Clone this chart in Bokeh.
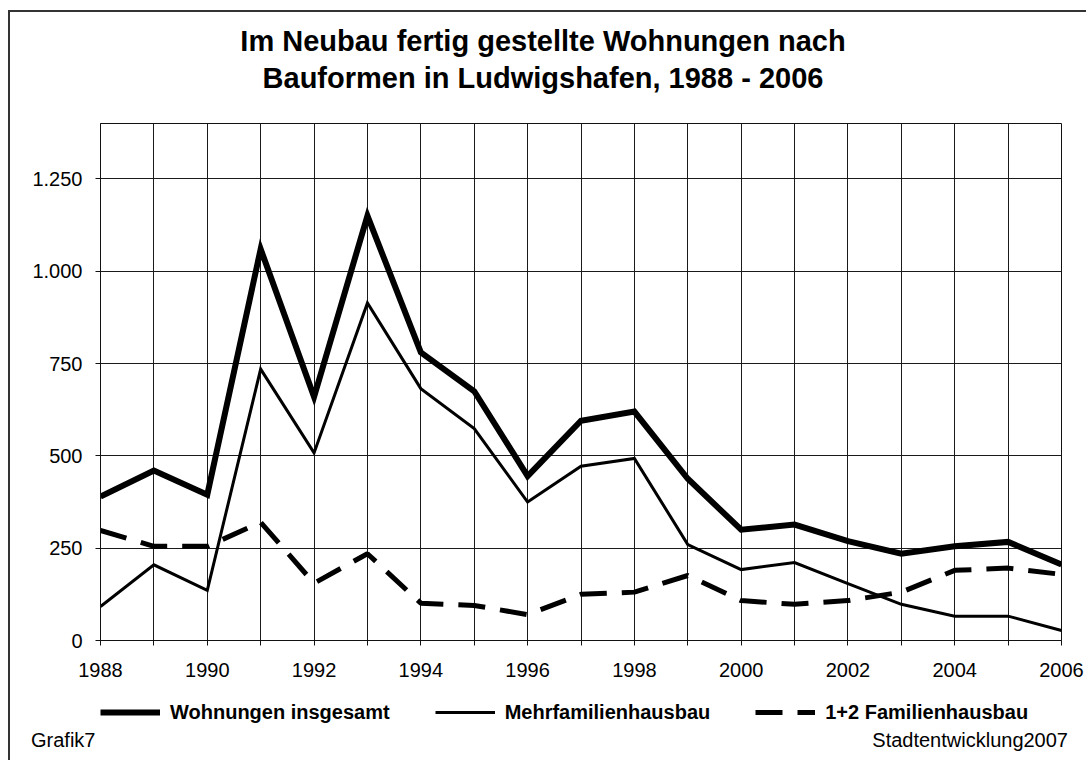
from bokeh.plotting import figure
from bokeh.layouts import column
from bokeh.models import Range1d, FixedTicker, Legend, LegendItem, Div
from bokeh.embed import file_html
from bokeh.resources import INLINE

years = list(range(1988, 2007))
total = [390, 460, 395, 1060, 660, 1150, 780, 675, 445, 595, 620, 438, 300, 314, 269, 235, 255, 267, 206]
mehr = [92, 205, 136, 735, 508, 914, 682, 574, 375, 472, 493, 260, 192, 211, 154, 98, 66, 66, 27]
fam12 = [298, 255, 255, 320, 155, 235, 101, 95, 70, 125, 131, 176, 108, 98, 108, 131, 190, 196, 179]

y_ticks = [0, 250, 500, 750, 1000, 1250]
y_tick_labels = ["0", "250", "500", "750", "1.000", "1.250"]
x_label_years = [1988, 1990, 1992, 1994, 1996, 1998, 2000, 2002, 2004, 2006]

title_lines = ["Im Neubau fertig gestellte Wohnungen nach",
               "Bauformen in Ludwigshafen, 1988 - 2006"]
series_names = ["Wohnungen insgesamt", "Mehrfamilienhausbau", "1+2 Familienhausbau"]
footer_left = "Grafik7"
footer_right = "Stadtentwicklung2007"

FONT = "Liberation Sans"
W = 1076
H_HEAD, H_FOOT = 100, 30

# line styles shared by the chart and its legend
styles = [dict(line_color="black", line_width=6, line_join="miter"),
          dict(line_color="black", line_width=3, line_join="miter"),
          dict(line_color="black", line_width=5, line_dash="27 15")]
series = [total, mehr, fam12]

# ---- header (title) ----
head_html = (
    f'<div style="position:relative;width:{W}px;height:{H_HEAD}px;">'
    f'<div style="position:absolute;left:0;top:15px;width:1066px;text-align:center;'
    f'font-family:\'{FONT}\';font-weight:bold;font-size:29px;line-height:29px;'
    f'white-space:nowrap;color:black;">{title_lines[0]}</div>'
    f'<div style="position:absolute;left:0;top:52px;width:1066px;text-align:center;'
    f'font-family:\'{FONT}\';font-weight:bold;font-size:29px;line-height:29px;'
    f'white-space:nowrap;color:black;">{title_lines[1]}</div>'
    '</div>'
)
head = Div(text=head_html, width=W, height=H_HEAD, margin=0)

# ---- main chart ----
p = figure(frame_width=961, frame_height=517, output_backend="svg", toolbar_location=None,
           x_range=Range1d(1988, 2006), y_range=Range1d(0, 1400),
           min_border_left=90, min_border_right=25, min_border_top=11, min_border_bottom=50,
           margin=0)
p.background_fill_color = "white"
p.border_fill_color = "white"
p.outline_line_color = "#111111"
p.outline_line_width = 1

p.xaxis.ticker = FixedTicker(ticks=years)
p.xaxis.major_label_overrides = {y: (str(y) if y in x_label_years else "") for y in years}
p.yaxis.ticker = FixedTicker(ticks=y_ticks)
p.yaxis.major_label_overrides = {t: l for t, l in zip(y_ticks, y_tick_labels)}
for ax in (p.xaxis, p.yaxis):
    ax.major_tick_out = 5
    ax.major_tick_in = 0
    ax.minor_tick_out = 0
    ax.minor_tick_in = 0
    ax.axis_line_color = "#111111"
    ax.major_tick_line_color = "#111111"
    ax.major_label_text_font = FONT
    ax.major_label_text_font_size = "20px"
    ax.major_label_text_color = "black"
p.yaxis.major_label_standoff = 13
p.xaxis.major_label_standoff = 17

p.xgrid.ticker = FixedTicker(ticks=years)
p.ygrid.ticker = FixedTicker(ticks=y_ticks)
for g in (p.xgrid, p.ygrid):
    g.grid_line_color = "#1a1a1a"
    g.grid_line_width = 1

for vals, st in zip(series, styles):
    p.line(years, vals, **st)

# ---- legend strip (same series, plotted out of its view, so only the legend shows) ----
lf = figure(frame_width=961, frame_height=40, output_backend="svg", toolbar_location=None,
            x_axis_location=None, y_axis_location=None,
            x_range=Range1d(0, 1), y_range=Range1d(0, 1),
            min_border_left=90, min_border_right=25, min_border_top=0, min_border_bottom=0,
            margin=0)
lf.grid.visible = False
lf.outline_line_color = None
lf.background_fill_color = "white"
lf.border_fill_color = "white"
items = []
for name, vals, st in zip(series_names, series, styles):
    r = lf.line(years, vals, **st)
    items.append(LegendItem(label=name, renderers=[r]))
legend = Legend(items=items, orientation="horizontal", location=(0, 6),
                glyph_width=60, glyph_height=24, label_standoff=10, spacing=45,
                padding=0, margin=0, border_line_color=None, background_fill_alpha=0,
                label_text_font=FONT, label_text_font_size="20px",
                label_text_font_style="bold", label_text_color="black")
lf.add_layout(legend, "center")

# ---- footer ----
foot_html = (
    f'<div style="position:relative;width:{W}px;height:{H_FOOT}px;'
    f'font-family:\'{FONT}\';font-size:20px;line-height:20px;color:black;white-space:nowrap;">'
    f'<span style="position:absolute;left:21px;top:0px;">{footer_left}</span>'
    f'<span style="position:absolute;right:18px;top:0px;">{footer_right}</span>'
    '</div>'
)
foot = Div(text=foot_html, width=W, height=H_FOOT, margin=0)

layout = column(head, p, lf, foot, spacing=0,
                styles={"margin-left": "8px", "margin-top": "10px",
                        "border-left": "2px solid #333333",
                        "border-top": "2px solid #333333"})

open("out.html", "w").write(file_html(layout, INLINE))
